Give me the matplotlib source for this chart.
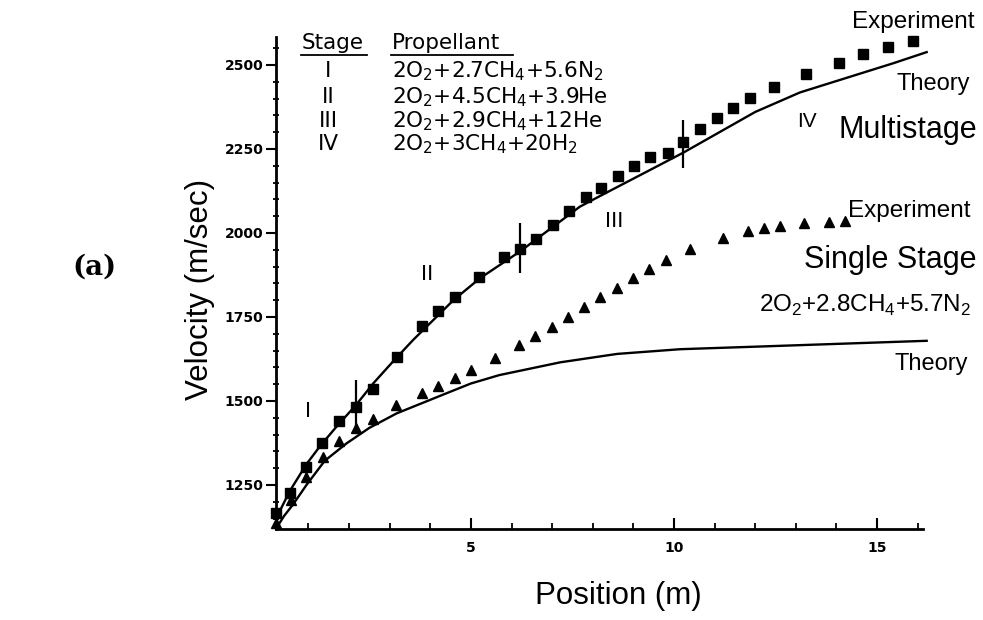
import matplotlib
matplotlib.use("Agg")
import matplotlib.pyplot as plt
from matplotlib.ticker import MultipleLocator, FixedLocator
from matplotlib.lines import Line2D

plt.rcParams['font.family'] = ['Liberation Sans', 'DejaVu Sans']
plt.rcParams['mathtext.fontset'] = 'custom'
plt.rcParams['mathtext.rm'] = 'Liberation Sans'

# multistage experiment (squares)
multi_x = [0.2, 0.54, 0.95, 1.33, 1.74, 2.17, 2.58, 3.17, 3.8, 4.18, 4.61, 5.2, 5.81,
           6.21, 6.6, 7.01, 7.42, 7.83, 8.2, 8.63, 9.01, 9.41, 9.84, 10.23, 10.64,
           11.05, 11.46, 11.86, 12.47, 13.25, 14.07, 14.66, 15.26, 15.88]
multi_v = [1168, 1227, 1303, 1376, 1440, 1483, 1537, 1632, 1722, 1768, 1810, 1868, 1927,
           1951, 1982, 2024, 2066, 2106, 2135, 2170, 2199, 2227, 2239, 2272, 2309,
           2341, 2373, 2401, 2433, 2473, 2507, 2533, 2554, 2572]

# single stage experiment (triangles)
single_x = [0.2, 0.56, 0.95, 1.36, 1.76, 2.17, 2.58, 3.15, 3.79, 4.19, 4.61, 4.99, 5.59,
            6.19, 6.58, 7.0, 7.38, 7.78, 8.18, 8.59, 8.98, 9.38, 9.8, 10.39, 11.21,
            11.81, 12.22, 12.61, 13.21, 13.82, 14.21]
single_v = [1136, 1205, 1275, 1332, 1380, 1419, 1447, 1487, 1523, 1545, 1568, 1592, 1627,
            1667, 1694, 1721, 1751, 1779, 1809, 1837, 1866, 1894, 1918, 1951, 1984,
            2006, 2014, 2022, 2029, 2034, 2036]

# theory curves
multi_theory_x = [0.2, 0.54, 0.95, 1.3, 1.7, 2.17, 2.6, 3.1, 3.58, 4.57, 5.22, 6.21,
                  7.68, 8.18, 10.23, 12.0, 13.1, 15.4, 16.22]
multi_theory_v = [1150, 1232, 1312, 1368, 1425, 1488, 1553, 1620, 1682, 1800, 1865,
                  1945, 2078, 2110, 2239, 2360, 2418, 2505, 2538]
single_theory_x = [0.2, 0.4, 0.62, 0.95, 1.4, 1.94, 2.5, 3.17, 4.4, 5.0, 5.7, 7.2,
                   8.6, 10.15, 12.12, 16.22]
single_theory_v = [1120, 1158, 1192, 1250, 1322, 1374, 1420, 1463, 1523, 1552, 1577,
                   1615, 1640, 1654, 1662, 1679]

# stage boundary bars
bound_x = [2.17, 6.21, 10.23]
bound_lo = [1405, 1882, 2193]
bound_hi = [1563, 2029, 2336]

stages = ['I', 'II', 'III', 'IV']
propellants = [r'2O$_\mathregular{2}$+2.7CH$_\mathregular{4}$+5.6N$_\mathregular{2}$',
               r'2O$_\mathregular{2}$+4.5CH$_\mathregular{4}$+3.9He',
               r'2O$_\mathregular{2}$+2.9CH$_\mathregular{4}$+12He',
               r'2O$_\mathregular{2}$+3CH$_\mathregular{4}$+20H$_\mathregular{2}$']
single_prop = r'2O$_\mathregular{2}$+2.8CH$_\mathregular{4}$+5.7N$_\mathregular{2}$'

W, H = 983, 620
fig = plt.figure(figsize=(W / 100, H / 100), dpi=100)
ax = fig.add_axes([276 / W, 1 - 529 / H, (923 - 276) / W, (529 - 37) / H])


def fx(px):
    return px / W


def fy(py):
    return 1 - py / H


ax.plot(multi_theory_x, multi_theory_v, color='black', lw=1.7, clip_on=False,
        solid_joinstyle='round')
ax.plot(single_theory_x, single_theory_v, color='black', lw=1.7, clip_on=False,
        solid_joinstyle='round')
ax.plot(multi_x, multi_v, 's', color='black', ms=7, clip_on=False)
ax.plot(single_x, single_v, '^', color='black', ms=7.5, clip_on=False)
ax.vlines(bound_x, bound_lo, bound_hi, color='black', lw=1.6)

ax.set_xlim(0.2, 16.13)
ax.set_ylim(1119, 2583)
for s in ['top', 'right']:
    ax.spines[s].set_visible(False)
for s in ['left', 'bottom']:
    ax.spines[s].set_linewidth(2)

ax.xaxis.set_major_locator(FixedLocator([5, 10, 15]))
ax.xaxis.set_minor_locator(MultipleLocator(1))
ax.yaxis.set_major_locator(FixedLocator([1250, 1500, 1750, 2000, 2250, 2500]))
ax.yaxis.set_minor_locator(MultipleLocator(50))
ax.tick_params(axis='x', which='major', direction='in', length=8, width=1.5, pad=9)
ax.tick_params(axis='x', which='minor', direction='in', length=4, width=1.3)
ax.tick_params(axis='y', which='major', direction='out', length=7, width=1.5, pad=2)
ax.tick_params(axis='y', which='minor', direction='inout', length=5, width=1.3)
for lab in ax.get_xticklabels() + ax.get_yticklabels():
    lab.set_family('DejaVu Sans')
    lab.set_fontweight('bold')
    lab.set_fontsize(10)

fig.text(fx(618), fy(596), 'Position (m)', fontsize=22.5, ha='center', va='center')
fig.text(fx(200), fy(289), 'Velocity (m/sec)', fontsize=22.5, rotation=90,
         ha='center', va='center')
fig.text(fx(94), fy(267), '(a)', fontsize=20, fontweight='bold',
         family='DejaVu Serif', ha='center', va='center')

# stage / propellant table
tab = dict(family='DejaVu Sans', fontsize=15.5, va='baseline')
fig.text(fx(302), fy(49), 'Stage', ha='left', **tab)
fig.text(fx(392), fy(49), 'Propellant', ha='left', **tab)
fig.add_artist(Line2D([fx(301), fx(367)], [fy(55), fy(55)], color='black', lw=1.3))
fig.add_artist(Line2D([fx(391), fx(513)], [fy(55), fy(55)], color='black', lw=1.3))
rows_y = [77, 103, 127, 150]
for st, prop, ry in zip(stages, propellants, rows_y):
    fig.text(fx(328), fy(ry), st, ha='center', **tab)
    fig.text(fx(392), fy(ry), prop, ha='left', **tab)

# stage markers along the curve
fig.text(fx(308), fy(417), 'I', fontsize=16, ha='center', va='baseline')
fig.text(fx(427), fy(280), 'II', fontsize=16, ha='center', va='baseline')
fig.text(fx(614), fy(227), 'III', fontsize=16, ha='center', va='baseline')
fig.text(fx(807), fy(127), 'IV', fontsize=15, ha='center', va='baseline')

# right-hand labels
fig.text(fx(975), fy(28), 'Experiment', fontsize=17.5, ha='right', va='baseline')
fig.text(fx(970), fy(90), 'Theory', fontsize=17, ha='right', va='baseline')
fig.text(fx(977), fy(138), 'Multistage', fontsize=22, ha='right', va='baseline')
fig.text(fx(970), fy(217), 'Experiment', fontsize=17.5, ha='right', va='baseline')
fig.text(fx(977), fy(268), 'Single Stage', fontsize=22, ha='right', va='baseline')
fig.text(fx(971), fy(312), single_prop, fontsize=17.5, ha='right', va='baseline')
fig.text(fx(968), fy(370), 'Theory', fontsize=17, ha='right', va='baseline')

fig.savefig('out.png', dpi=100, facecolor='white')
